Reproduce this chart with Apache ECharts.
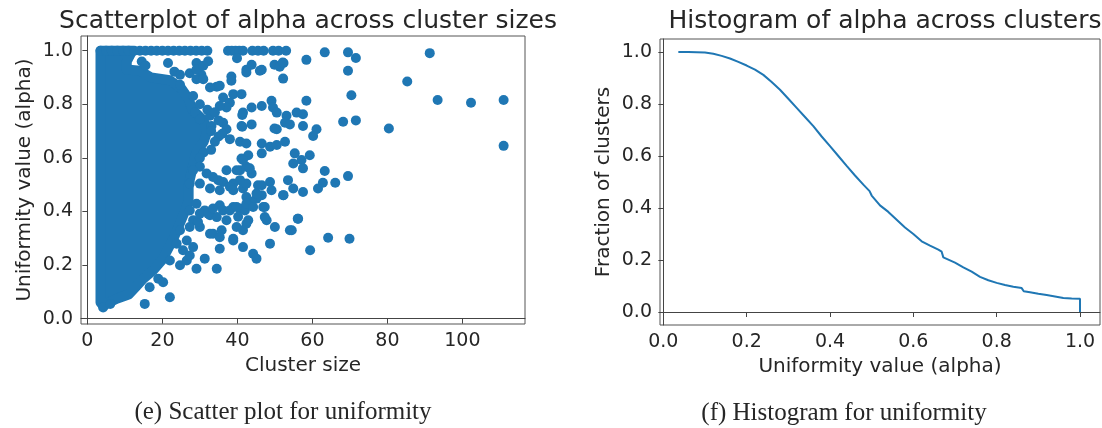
<!DOCTYPE html>
<html>
<head>
<meta charset="utf-8">
<script src="https://cdn.jsdelivr.net/npm/echarts@6/dist/echarts.min.js"></script>
<style>
  html, body { margin: 0; padding: 0; background: #fff; }
  #chart { width: 1102px; height: 428px; }
</style>
</head>
<body>
<div id="chart"></div>
<script>
// ---- data ----
const xTicksLeft = [0, 20, 40, 60, 80, 100];
const yTicks = [0, 0.2, 0.4, 0.6, 0.8, 1.0];
const xTicksRight = [0, 0.2, 0.4, 0.6, 0.8, 1.0];

// solid mass of overlapping points (cluster size, alpha), outline through marker centres
const denseOutline = [
  [3.5, 1.0], [12, 1.0], [10.5, 0.96], [10.5, 0.93], [14, 0.925], [17, 0.9], [22, 0.89],
  [25, 0.86], [27, 0.82], [28, 0.78], [31, 0.74], [32, 0.7], [31, 0.66], [29, 0.62],
  [28, 0.56], [27, 0.5], [27, 0.44], [26, 0.4], [24.5, 0.35], [23, 0.3], [21.5, 0.26],
  [20, 0.22], [17.5, 0.18], [15, 0.15], [13, 0.12], [11, 0.09], [8, 0.075], [6, 0.062],
  [4.3, 0.048], [3.5, 0.06]
];

// clusters with alpha = 1.0
const topRowSizes = [3.5, 5, 6.5, 8, 9.5, 11, 12.5, 14, 15.5, 17, 18.5, 20, 21.5, 23, 24.5, 26,
  27.5, 29, 30.5, 32, 37.5, 38.5, 39.5, 40.5, 41.5, 44, 45.5, 47, 49.5, 51, 53];

// individual points around the mass
const scatterPoints = [
  [23.2, 0.922], [24.7, 0.873], [21.5, 0.954], [24.7, 0.91], [29.1, 0.954], [30.4, 0.91],
  [32.2, 0.961], [27.3, 0.916], [38.4, 0.904], [34.5, 0.866], [42.4, 0.929], [43.8, 0.948],
  [46.5, 0.929], [14.5, 0.96], [15.5, 0.945], [39.9, 0.972], [49.9, 0.948], [52.3, 0.954],
  [58.4, 0.966], [51.3, 0.94], [52.1, 0.956], [38.4, 0.888], [42.4, 0.919], [46, 0.925],
  [52.2, 0.896], [32.7, 0.863], [35.3, 0.869], [29.1, 0.93], [30.9, 0.944], [29.1, 0.894],
  [30.9, 0.894], [28.2, 0.831], [36.2, 0.825], [38.9, 0.838], [41.1, 0.838], [38, 0.806],
  [37.1, 0.788], [35.3, 0.794], [41.5, 0.769], [43.8, 0.788], [46.5, 0.794], [49.1, 0.813],
  [49.5, 0.788], [50.5, 0.769], [53.1, 0.757], [52.7, 0.731], [55.8, 0.769], [57.5, 0.763],
  [58.4, 0.813], [28.7, 0.769], [30, 0.744], [32.7, 0.757], [33.1, 0.719], [36.2, 0.731],
  [37.1, 0.707], [41.1, 0.719], [43.8, 0.725], [50.5, 0.707], [54, 0.725], [57.5, 0.719],
  [61.1, 0.707], [49.9, 0.71], [41.3, 0.76], [41.3, 0.716],
  [30, 0.8], [32, 0.78], [34, 0.77], [35, 0.74], [33, 0.7], [35, 0.68], [34, 0.66],
  [36, 0.69], [31, 0.62], [33, 0.63], [38, 0.67], [30, 0.6],
  [40.7, 0.66], [42.4, 0.654], [46.5, 0.654], [46.5, 0.617], [48.7, 0.642], [50.5, 0.648],
  [52.7, 0.66], [55.3, 0.617], [54.9, 0.579], [57.1, 0.592], [57.5, 0.561], [59.3, 0.61],
  [41.1, 0.598], [42.9, 0.61], [40.7, 0.554], [42.4, 0.567], [43.8, 0.542], [38.9, 0.504],
  [41.5, 0.486], [45.5, 0.498], [48.7, 0.51], [49.1, 0.479], [46.5, 0.461], [45.1, 0.448],
  [43.8, 0.436], [42.4, 0.454], [53.5, 0.517], [52.2, 0.461], [54.9, 0.486], [57.5, 0.473],
  [61.5, 0.486], [36.2, 0.51], [38, 0.492], [35.3, 0.479], [32.7, 0.486], [30, 0.504],
  [29.1, 0.429], [31.3, 0.404], [32.7, 0.386], [35.3, 0.423], [36.2, 0.404], [38.9, 0.417],
  [40.7, 0.411], [42, 0.404], [40.2, 0.38], [42.9, 0.367], [46.9, 0.417], [47.8, 0.367],
  [50, 0.342], [54, 0.33], [56.2, 0.373], [35.8, 0.33], [33.5, 0.317], [38.9, 0.298],
  [27.3, 0.404], [28.2, 0.367], [30, 0.342],
  [22, 0.08], [18.9, 0.149], [20.2, 0.136], [16.6, 0.117], [15.3, 0.055], [22, 0.217],
  [24.7, 0.199], [26.5, 0.217], [29.1, 0.186], [34.5, 0.186], [31.3, 0.224], [35.3, 0.261],
  [38.9, 0.292], [41.5, 0.267], [44.2, 0.242], [45.1, 0.224], [48.7, 0.28], [47.3, 0.379],
  [47.3, 0.417], [41.5, 0.33], [42.4, 0.354], [39.8, 0.342], [37.1, 0.367], [34.5, 0.379],
  [35.3, 0.304], [32.7, 0.317], [29.5, 0.361], [27.3, 0.342], [24.7, 0.33], [26.5, 0.292],
  [23.8, 0.28], [25.5, 0.255], [27.3, 0.236], [28.2, 0.267], [38, 0.404], [39.8, 0.417],
  [42.4, 0.429], [44.2, 0.417], [45.1, 0.467], [46.5, 0.498], [38.9, 0.479], [42.4, 0.504],
  [40.7, 0.517], [39.8, 0.554], [43.3, 0.561], [41.5, 0.592], [37.1, 0.554], [34.9, 0.517],
  [33.5, 0.529], [31.8, 0.542], [30, 0.567], [28.2, 0.554], [27.3, 0.504], [30, 0.392],
  [32.2, 0.392], [33.5, 0.411], [4.2, 0.042], [6.1, 0.055],
  [59.4, 0.255], [64.2, 0.302], [69.9, 0.298], [54.5, 0.33], [56.1, 0.373], [52.3, 0.461],
  [63.3, 0.994], [69.5, 0.994], [71.6, 0.973], [69.5, 0.925], [70.4, 0.834], [71.6, 0.74],
  [68.2, 0.735], [80.4, 0.71], [85.3, 0.885], [91.3, 0.991], [93.4, 0.816], [102.3, 0.806],
  [111, 0.816], [111, 0.645], [60.2, 0.682], [63.3, 0.551], [69.5, 0.532], [66.1, 0.507],
  [62.8, 0.507]
];

// fraction of clusters with alpha >= value
const alphaValues = [0.036, 0.06, 0.1, 0.12, 0.14, 0.16, 0.18, 0.2, 0.22, 0.24, 0.26, 0.28,
  0.3, 0.32, 0.34, 0.36, 0.38, 0.4, 0.42, 0.44, 0.46, 0.48, 0.495, 0.5, 0.52, 0.54, 0.56,
  0.58, 0.6, 0.62, 0.64, 0.66, 0.668, 0.672, 0.7, 0.72, 0.74, 0.76, 0.78, 0.8, 0.82, 0.84,
  0.86, 0.865, 0.88, 0.9, 0.92, 0.94, 0.96, 0.98, 1.0, 1.0];
const clusterFraction = [1.0, 1.0, 0.998, 0.993, 0.985, 0.975, 0.962, 0.948, 0.932, 0.912,
  0.885, 0.855, 0.82, 0.785, 0.75, 0.715, 0.675, 0.638, 0.6, 0.562, 0.525, 0.49, 0.465,
  0.448, 0.41, 0.385, 0.355, 0.325, 0.3, 0.272, 0.255, 0.24, 0.232, 0.21, 0.19, 0.172,
  0.155, 0.135, 0.122, 0.112, 0.104, 0.097, 0.092, 0.08, 0.076, 0.07, 0.065, 0.06, 0.054,
  0.052, 0.051, 0.0];

// ---- chart ----
const blue = '#1f77b4';
const textColor = '#262626';
const font = 'DejaVu Sans';
const dot = 10;

function valueAxis(gridIndex, min, max, ticks, name, gap, isY) {
  return {
    type: 'value',
    gridIndex: gridIndex,
    min: min,
    max: max,
    name: name,
    nameLocation: 'middle',
    nameGap: gap,
    nameTextStyle: { fontFamily: font, fontSize: 20, color: textColor },
    axisLine: { show: true, lineStyle: { color: '#444', width: 1 } },
    axisTick: { show: true, inside: false, length: 5, customValues: ticks, lineStyle: { color: '#444' } },
    axisLabel: {
      customValues: ticks,
      margin: 8,
      fontFamily: font,
      fontSize: 19,
      color: textColor,
      formatter: isY || max < 2 ? (v => v.toFixed(1)) : (v => String(v))
    },
    splitLine: { show: false }
  };
}

const chart = echarts.init(document.getElementById('chart'));
chart.setOption({
  animation: false,
  backgroundColor: '#fff',
  title: [
    { text: 'Scatterplot of alpha across cluster sizes', left: 303, top: 4, textAlign: 'center',
      textStyle: { fontFamily: font, fontSize: 25, fontWeight: 'normal', color: textColor } },
    { text: 'Histogram of alpha across clusters', left: 880, top: 4, textAlign: 'center',
      textStyle: { fontFamily: font, fontSize: 25, fontWeight: 'normal', color: textColor } }
  ],
  grid: [
    { left: 81, right: 577, top: 36, bottom: 104, show: true, borderColor: '#555', borderWidth: 1 },
    { left: 660, right: 2, top: 39, bottom: 103, show: true, borderColor: '#555', borderWidth: 1 }
  ],
  xAxis: [
    valueAxis(0, -1.7, 116.7, xTicksLeft, 'Cluster size', 32, false),
    valueAxis(1, -0.008, 1.048, xTicksRight, 'Uniformity value (alpha)', 32, false)
  ],
  yAxis: [
    valueAxis(0, -0.02, 1.055, yTicks, 'Uniformity value (alpha)', 46, true),
    valueAxis(1, -0.05, 1.05, yTicks, 'Fraction of clusters', 46, true)
  ],
  graphic: [
    { type: 'text', x: 283, y: 412,
      style: { text: '(e) Scatter plot for uniformity', font: '25px "Liberation Serif"', fill: textColor,
        textAlign: 'center', textVerticalAlign: 'middle' } },
    { type: 'text', x: 844, y: 413,
      style: { text: '(f) Histogram for uniformity', font: '25px "Liberation Serif"', fill: textColor,
        textAlign: 'center', textVerticalAlign: 'middle' } }
  ],
  series: [
    {
      type: 'custom',
      xAxisIndex: 0,
      yAxisIndex: 0,
      silent: true,
      data: [0],
      renderItem: function (params, api) {
        return {
          type: 'polygon',
          shape: { points: denseOutline.map(p => api.coord(p)) },
          style: { fill: blue, stroke: blue, lineWidth: dot, lineJoin: 'round' }
        };
      }
    },
    {
      type: 'scatter',
      xAxisIndex: 0,
      yAxisIndex: 0,
      symbolSize: dot,
      itemStyle: { color: blue, opacity: 1 },
      data: topRowSizes.map(x => [x, 1.0]).concat(scatterPoints)
    },
    {
      type: 'line',
      xAxisIndex: 1,
      yAxisIndex: 1,
      showSymbol: false,
      lineStyle: { color: blue, width: 2 },
      data: alphaValues.map((a, i) => [a, clusterFraction[i]])
    }
  ]
});
</script>
</body>
</html>
